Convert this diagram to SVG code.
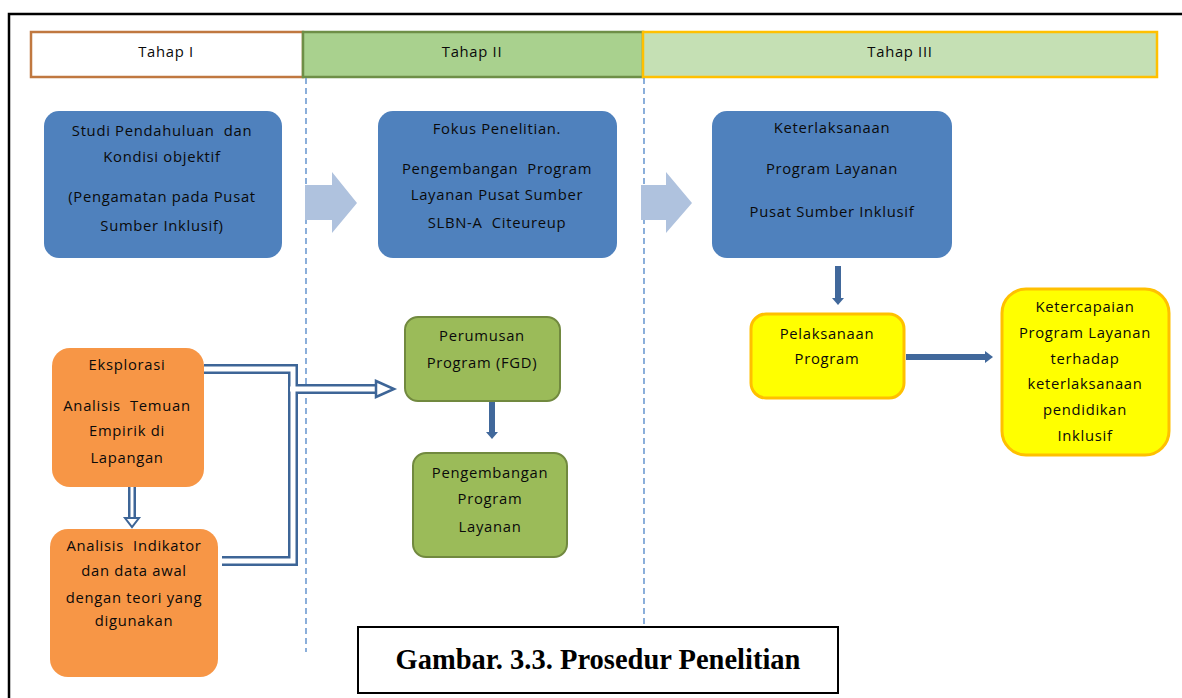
<svg xmlns="http://www.w3.org/2000/svg" width="1182" height="698" viewBox="0 0 1182 698">
<style>
.t{font-family:"Open Sans","Liberation Sans",sans-serif;font-size:14.8px;fill:#0A0A0A;text-anchor:middle;letter-spacing:0.7px}
.blue{fill:#4F81BD}
.orange{fill:#F79646}
.green{fill:#9BBB59;stroke:#71893F;stroke-width:2}
.yellow{fill:#FFFF00;stroke:#FFC000;stroke-width:3}
.dash{stroke:#6F9BD1;stroke-width:1.6;stroke-dasharray:6 4;fill:none}
.dbl-o{fill:none;stroke:#3D6597;stroke-width:10}
.dbl-i{fill:none;stroke:#FFFFFF;stroke-width:5}
.solid{fill:none;stroke:#41689B;stroke-width:6}
.chev{fill:#AFC2DE}
</style>
<rect width="1182" height="698" fill="#FFFFFF"/>
<g id="frame">
<path d="M9 698 V14 H1182" fill="none" stroke="#000" stroke-width="2.5"/>
</g>
<g id="tahap1"><rect x="31" y="32" width="272" height="45" fill="#FFFFFF" stroke="#C07840" stroke-width="2.5"/><text class="t" x="166" y="57">Tahap I</text></g>
<g id="tahap2"><rect x="303" y="32" width="340" height="45" fill="#A9D18E" stroke="#6E8F47" stroke-width="2.5"/><text class="t" x="472" y="57">Tahap II</text></g>
<g id="tahap3"><rect x="643" y="32" width="514" height="45" fill="#C5E0B4" stroke="#FFC000" stroke-width="2.5"/><text class="t" x="900" y="57">Tahap III</text></g>
<g id="dividers">
<line class="dash" x1="306" y1="78" x2="306" y2="652"/>
<line class="dash" x1="644" y1="78" x2="644" y2="624"/>
</g>
<g id="connectors">
<polygon class="chev" points="305,185 332,185 332,172 357,203 332,233 332,220 305,220"/>
<polygon class="chev" points="641,185 666,185 666,172 692,203 666,233 666,220 641,220"/>
<path class="dbl-o" d="M204 369 H293 V561 H222"/>
<path class="dbl-o" d="M293 389 H378"/>
<path class="dbl-i" d="M204 369 H293 V561 H222"/>
<path class="dbl-i" d="M290 389 H380"/>
<polygon points="376,381 394,389 376,397" fill="#FFFFFF" stroke="#3D6597" stroke-width="2.5"/>
<line x1="132" y1="487" x2="132" y2="519" stroke="#3D6597" stroke-width="8"/>
<line x1="132" y1="487" x2="132" y2="520" stroke="#FFFFFF" stroke-width="3"/>
<polygon points="125,518 139,518 132,527" fill="#FFFFFF" stroke="#3D6597" stroke-width="2"/>
<line class="solid" x1="492" y1="401" x2="492" y2="433"/>
<polygon points="486,432 498,432 492,439" fill="#41689B"/>
<line class="solid" x1="838" y1="266" x2="838" y2="299"/>
<polygon points="832,298 844,298 838,305" fill="#41689B"/>
<line class="solid" x1="906" y1="357" x2="986" y2="357"/>
<polygon points="985,351 985,363 993,357" fill="#41689B"/>
</g>
<g id="studi"><rect class="blue" x="44" y="111" width="238" height="147" rx="15"/>
<text class="t" x="162" y="136">Studi Pendahuluan&#160; dan</text>
<text class="t" x="162" y="162">Kondisi objektif</text>
<text class="t" x="162" y="202">(Pengamatan pada Pusat</text>
<text class="t" x="162" y="231">Sumber Inklusif)</text></g>
<g id="fokus"><rect class="blue" x="378" y="111" width="239" height="147" rx="15"/>
<text class="t" x="497" y="134">Fokus Penelitian.</text>
<text class="t" x="497" y="174">Pengembangan&#160; Program</text>
<text class="t" x="497" y="200">Layanan Pusat Sumber</text>
<text class="t" x="497" y="228">SLBN-A&#160; Citeureup</text></g>
<g id="keterlaksanaan"><rect class="blue" x="712" y="111" width="240" height="147" rx="15"/>
<text class="t" x="832" y="133">Keterlaksanaan</text>
<text class="t" x="832" y="174">Program Layanan</text>
<text class="t" x="832" y="217">Pusat Sumber Inklusif</text></g>
<g id="eksplorasi"><rect class="orange" x="52" y="348" width="152" height="139" rx="18"/>
<text class="t" x="127" y="370">Eksplorasi</text>
<text class="t" x="127" y="411">Analisis&#160; Temuan</text>
<text class="t" x="127" y="436">Empirik di</text>
<text class="t" x="127" y="463">Lapangan</text></g>
<g id="analisis"><rect class="orange" x="50" y="529" width="168" height="148" rx="18"/>
<text class="t" x="134" y="551">Analisis&#160; Indikator</text>
<text class="t" x="134" y="576">dan data awal</text>
<text class="t" x="134" y="603">dengan teori yang</text>
<text class="t" x="134" y="626">digunakan</text></g>
<g id="perumusan"><rect class="green" x="405" y="317" width="155" height="84" rx="13"/>
<text class="t" x="482" y="341">Perumusan</text>
<text class="t" x="482" y="368">Program (FGD)</text></g>
<g id="pengembangan"><rect class="green" x="413" y="453" width="154" height="104" rx="13"/>
<text class="t" x="490" y="478">Pengembangan</text>
<text class="t" x="490" y="504">Program</text>
<text class="t" x="490" y="532">Layanan</text></g>
<g id="pelaksanaan"><rect class="yellow" x="751" y="314" width="153" height="84" rx="15"/>
<text class="t" x="827" y="339">Pelaksanaan</text>
<text class="t" x="827" y="364">Program</text></g>
<g id="ketercapaian"><rect class="yellow" x="1002" y="289" width="167" height="166" rx="24"/>
<text class="t" x="1085" y="312">Ketercapaian</text>
<text class="t" x="1085" y="338">Program Layanan</text>
<text class="t" x="1085" y="364">terhadap</text>
<text class="t" x="1085" y="389">keterlaksanaan</text>
<text class="t" x="1085" y="415">pendidikan</text>
<text class="t" x="1085" y="441">Inklusif</text></g>
<g id="caption"><rect x="358" y="627" width="480" height="66" fill="#FFFFFF" stroke="#000" stroke-width="2"/>
<text x="598" y="669" font-family="'Liberation Serif','Times New Roman',serif" font-weight="bold" font-size="28.5" text-anchor="middle" fill="#000">Gambar. 3.3. Prosedur Penelitian</text></g>
</svg>
